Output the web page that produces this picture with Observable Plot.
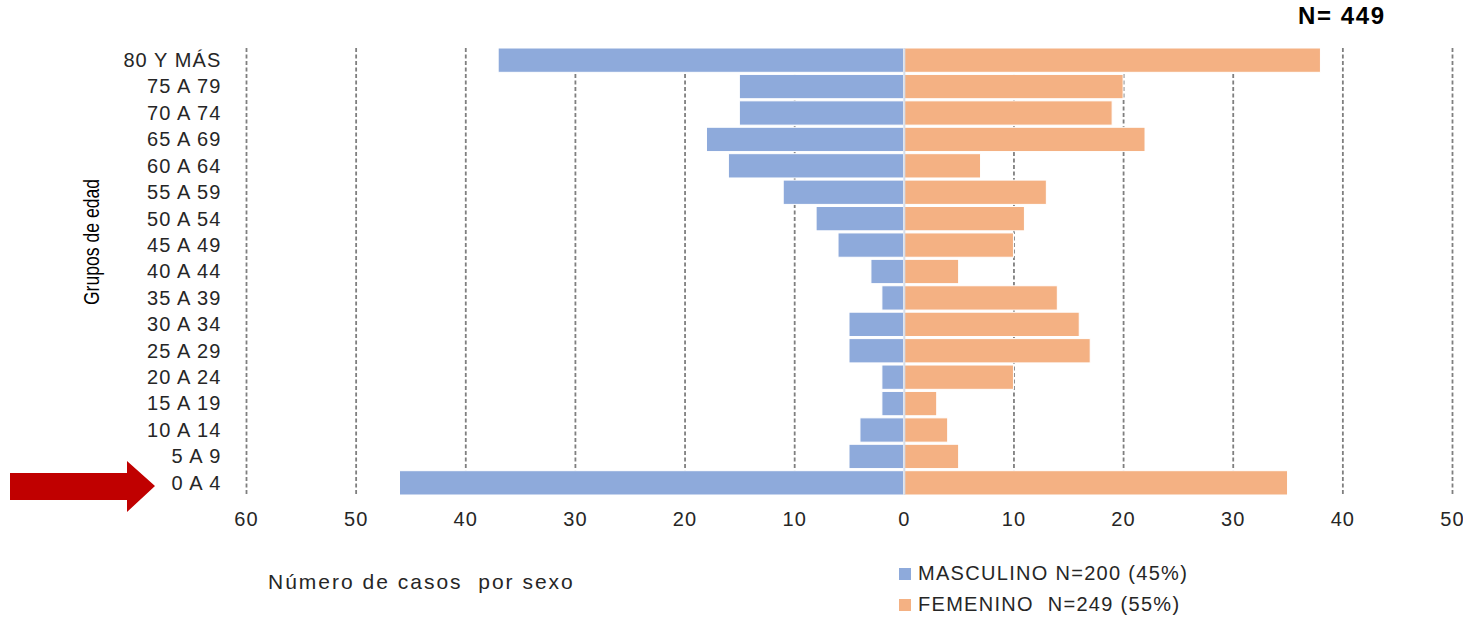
<!DOCTYPE html>
<html>
<head>
<meta charset="utf-8">
<script src="https://cdn.jsdelivr.net/npm/d3@7"></script>
<script src="https://cdn.jsdelivr.net/npm/@observablehq/plot@0.6"></script>
<style>
  html, body { margin: 0; padding: 0; background: #fff; overflow: hidden; }
  #wrap { position: relative; width: 1463px; height: 620px; font-family: "Liberation Sans", Arial, sans-serif; color: #262626; }
  #chart { position: absolute; left: 0; top: 0; }
  #chart svg text { letter-spacing: 1.1px; }
  .abs { position: absolute; white-space: nowrap; }
  #ntotal { left: 1298px; top: 2px; font-size: 24px; font-weight: bold; color: #000; letter-spacing: 1.6px; }
  #ytitle { left: 92px; top: 242px; font-family: "Liberation Sans Narrow", "Liberation Sans", Arial, sans-serif; font-size: 22px; transform: translate(-50%, -50%) rotate(-90deg) scaleX(0.8); color: #000; }
  #xtitle { left: 268px; top: 570px; font-size: 21px; letter-spacing: 2px; }
  .leg { font-size: 20px; display: flex; align-items: center; letter-spacing: 1.3px; }
  .leg span.sw { display: inline-block; width: 12px; height: 12px; margin-right: 7px; }
  #arrow { left: 0; top: 0; }
</style>
</head>
<body>
<div id="wrap">
  <div id="chart"></div>
  <div id="ntotal" class="abs">N= 449</div>
  <div id="ytitle" class="abs">Grupos de edad</div>
  <div id="xtitle" class="abs">Número de casos &nbsp;por sexo</div>
  <div id="leg1" class="abs leg" style="left:899px; top:562px;"><span class="sw" style="background:#8eaadb"></span>MASCULINO N=200 (45%)</div>
  <div id="leg2" class="abs leg" style="left:899px; top:593px;"><span class="sw" style="background:#f4b183"></span>FEMENINO &nbsp;N=249 (55%)</div>
  <svg id="arrow" class="abs" width="170" height="620"><polygon points="10,473 127,473 127,461 155,486 127,512 127,500 10,500" fill="#c00000"/></svg>
</div>
<script>
const ageGroups = ["80 Y MÁS","75 A 79","70 A 74","65 A 69","60 A 64","55 A 59","50 A 54","45 A 49","40 A 44","35 A 39","30 A 34","25 A 29","20 A 24","15 A 19","10 A 14","5 A 9","0 A 4"];
const masculino = [37,15,15,18,16,11,8,6,3,2,5,5,2,2,4,5,46];
const femenino  = [38,20,19,22,7,13,11,10,5,14,16,17,10,3,4,5,35];
const xTicks = [-60,-50,-40,-30,-20,-10,0,10,20,30,40,50];
const colors = {MASCULINO: "#8eaadb", FEMENINO: "#f4b183"};

const rows = [];
ageGroups.forEach((g, i) => {
  rows.push({group: g, sexo: "MASCULINO", value: -masculino[i]});
  rows.push({group: g, sexo: "FEMENINO", value: femenino[i]});
});

const chart = Plot.plot({
  width: 1463,
  height: 620,
  marginLeft: 246,
  marginRight: 11,
  marginTop: 48,
  marginBottom: 125,
  style: {fontFamily: "'Liberation Sans', Arial, sans-serif", fontSize: "20px", color: "#262626", overflow: "visible"},
  x: {domain: [-60, 50], ticks: xTicks, tickFormat: d => Math.abs(d), label: null},
  y: {domain: ageGroups, paddingInner: 0.08, paddingOuter: 0, round: false, label: null},
  color: {domain: Object.keys(colors), range: Object.values(colors)},
  marks: [
    Plot.ruleX(xTicks.filter(t => t !== 0), {stroke: "#7f7f7f", strokeWidth: 1.8, strokeDasharray: "4,2.5"}),
    Plot.barX(rows, {y: "group", x: "value", fill: "sexo", stroke: "#ffffff", strokeWidth: 1}),
    Plot.ruleX([0], {stroke: "#d6dde9", strokeWidth: 2}),
    Plot.axisX({ticks: xTicks, tickFormat: d => Math.abs(d), tickSize: 0, tickPadding: 16, label: null}),
    Plot.axisY({tickSize: 0, tickPadding: 25, label: null})
  ]
});
document.getElementById("chart").appendChild(chart);
</script>
</body>
</html>
